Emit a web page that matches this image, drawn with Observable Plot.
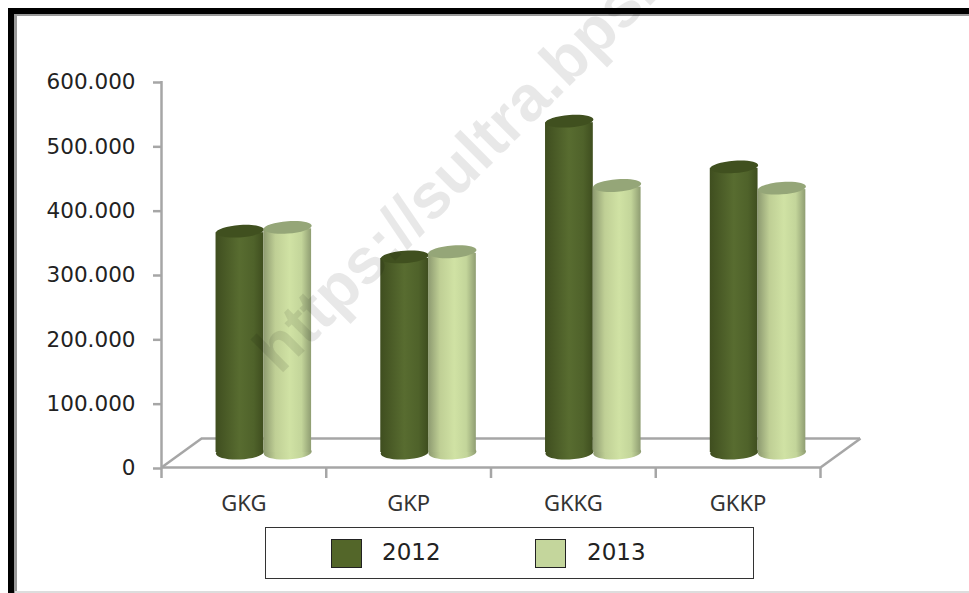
<!DOCTYPE html>
<html>
<head>
<meta charset="utf-8">
<script src="https://cdn.jsdelivr.net/npm/d3@7"></script>
<script src="https://cdn.jsdelivr.net/npm/@observablehq/plot@0.6"></script>
<style>
html,body{margin:0;padding:0;background:#fff;overflow:hidden}
#wrap{position:relative;width:969px;height:593px;overflow:hidden}
svg{position:absolute;left:0;top:0}
#frame{position:absolute;left:8px;top:8px;width:990px;height:600px;border:solid #000;border-width:6px 0 0 6px;box-shadow:inset 3px 2px 0 #999;}
#bottomline{position:absolute;left:15px;right:0;top:591px;height:2px;background:#ddd}
#legend{position:absolute;left:265px;top:527px;width:487px;height:50px;border:1px solid #333;background:#fff;font:23px "DejaVu Sans",sans-serif;color:#222}
#legend span{position:absolute;top:10px;line-height:28px}
#legend i{position:absolute;top:11px;width:31px;height:29px;border:1px solid #222;box-sizing:border-box}
</style>
</head>
<body>
<div id="wrap"></div>
<script>
const categories = ["GKG", "GKP", "GKKG", "GKKP"];
const years = ["2012", "2013"];
const values2012 = [344, 304, 515, 444];
const values2013 = [350, 312, 415, 411];
const yTicks = [0, 100, 200, 300, 400, 500, 600];
const xTicks = [0, 1, 2, 3, 4];

const barWidth = 0.29, barShift = 0.121;
const rows = categories.flatMap((c, i) => {
  const m = i + 0.5 + barShift;
  return [
    {year: "2012", v: values2012[i], a: m - barWidth, b: m, c: m - barWidth / 2},
    {year: "2013", v: values2013[i], a: m, b: m + barWidth, c: m + barWidth / 2}
  ];
});

const depthX = 0.243, depthY = 45;
const ellipse = (rx, ry, t) => ({
  draw(ctx) {
    const k = 0.5523;
    const P = (u, v) => [u * rx, v * ry + u * rx * t];
    const seq = [[[1,k],[k,1],[0,1]],[[-k,1],[-1,k],[-1,0]],[[-1,-k],[-k,-1],[0,-1]],[[k,-1],[1,-k],[1,0]]];
    ctx.moveTo(...P(1,0));
    for (const [a,b,c] of seq) ctx.bezierCurveTo(...P(...a),...P(...b),...P(...c));
    ctx.closePath();
  }
});
const topShape = ellipse(24, 6.2, -0.07);
const baseShape = ellipse(24, 7, -0.04);
const fills = {"2012": "url(#g12)", "2013": "url(#g13)"};
const tops = {"2012": "#40501f", "2013": "#95a678"};
const fy = 15;

const defs = () => {
  const g = document.createElementNS("http://www.w3.org/2000/svg", "g");
  g.innerHTML = `<defs>
  <linearGradient id="g12"><stop offset="0" stop-color="#3f4e1f"/><stop offset=".5" stop-color="#586c30"/><stop offset=".8" stop-color="#4f622a"/><stop offset="1" stop-color="#3f4e1f"/></linearGradient>
  <linearGradient id="g13"><stop offset="0" stop-color="#8d9a70"/><stop offset=".25" stop-color="#bfcf95"/><stop offset=".55" stop-color="#d0e2a4"/><stop offset=".8" stop-color="#c3d59a"/><stop offset="1" stop-color="#8f9d72"/></linearGradient>
  </defs>`;
  return g;
};

const barMarks = rows.flatMap(r => [
  Plot.dot([r], {x: "c", y: () => 0, symbol: baseShape, r: 1, fill: fills[r.year], stroke: "none", dy: -fy}),
  Plot.rectY([r], {x1: "a", x2: "b", y1: () => 0, y2: "v", fill: fills[r.year], dy: -fy, insetTop: 1.5}),
  Plot.dot([r], {x: "c", y: "v", symbol: topShape, r: 1, fill: tops[r.year], stroke: "none", dy: -fy})
]);

const chart = Plot.plot({
  width: 969, height: 593,
  marginTop: 81, marginBottom: 126, marginLeft: 161, marginRight: 149,
  style: {background: "transparent", fontFamily: "DejaVu Sans", overflow: "visible"},
  x: {type: "linear", domain: [0, 4], axis: null},
  y: {domain: [0, 600], axis: null},
  marks: [
    defs,
    Plot.ruleY([0], {stroke: "#a6a6a6", strokeWidth: 2.5, dx: 40, dy: -29}),
    Plot.link([0, 4], {x1: d => d, y1: () => 0, x2: d => d + depthX, y2: () => depthY, stroke: "#a6a6a6", strokeWidth: 2.5}),
    Plot.ruleY([0], {stroke: "#a6a6a6", strokeWidth: 2.5}),
    Plot.ruleX([0], {y1: 0, y2: 600, stroke: "#a6a6a6", strokeWidth: 2.5}),
    Plot.axisY({ticks: yTicks, tickSize: 8, tickPadding: 18, stroke: "#a6a6a6", strokeWidth: 2.5, fontSize: 21.5, fill: "#222", textStroke: "none", label: null, dy: 1,
      tickFormat: d => d === 0 ? "0" : d + ".000"}),
    Plot.axisX({ticks: xTicks, tickSize: 11, tickFormat: () => "", label: null, stroke: "#a6a6a6", strokeWidth: 2.5}),
    Plot.text(categories, {x: (d, i) => i + 0.5, y: () => 0, text: d => d, dy: 36, fontSize: 22, fill: "#333", fontFamily: "Noto Sans"}),
    ...barMarks,
    Plot.text(["https://sultra.bps.go.id"], {x: () => 0.72, y: () => 143, text: d => d, rotate: -45, textAnchor: "start", lineAnchor: "bottom", fontSize: 64, fontWeight: "bold", fill: "#000", fillOpacity: 0.09, fontFamily: "Liberation Sans"})
  ]
});

const wrap = document.getElementById("wrap");
wrap.innerHTML = '<div id="frame"></div><div id="bottomline"></div>';
wrap.appendChild(chart);
const leg = document.createElement("div");
leg.id = "legend";
leg.innerHTML = `<i style="left:65px;background:#536629"></i><span style="left:116px">${years[0]}</span><i style="left:269px;background:#c4d69c"></i><span style="left:321px">${years[1]}</span>`;
wrap.appendChild(leg);
</script>
</body>
</html>
